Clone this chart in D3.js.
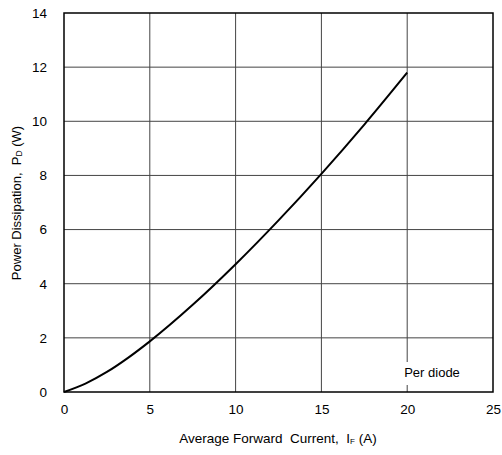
<!DOCTYPE html>
<html>
<head>
<meta charset="utf-8">
<script src="https://cdn.jsdelivr.net/npm/d3@7"></script>
<style>
  body { margin: 0; background: #fff; }
  text { font-family: "Liberation Sans", Arial, sans-serif; fill: #000; white-space: pre; }
</style>
</head>
<body>
<svg id="chart" width="502" height="455"></svg>
<script>
const current = [0, 1.25, 2.5, 3.75, 5, 7.5, 10, 12.5, 15, 17.5, 20];
const power   = [0, 0.31, 0.74, 1.27, 1.87, 3.22, 4.72, 6.34, 8.06, 9.88, 11.8];
const xTicks = [0, 5, 10, 15, 20, 25];
const yTicks = [0, 2, 4, 6, 8, 10, 12, 14];

const svg = d3.select("#chart");
const margin = { top: 13, right: 9, bottom: 63, left: 64 };
const width = 502 - margin.left - margin.right;
const height = 455 - margin.top - margin.bottom;

const x = d3.scaleLinear().domain([0, 25]).range([0, width]);
const y = d3.scaleLinear().domain([0, 14]).range([height, 0]);

const g = svg.append("g")
  .attr("transform", "translate(" + margin.left + "," + margin.top + ")");

// grid
g.append("g")
  .selectAll("line")
  .data(xTicks.slice(1, -1))
  .join("line")
  .attr("x1", d => x(d)).attr("x2", d => x(d))
  .attr("y1", 0).attr("y2", height)
  .attr("stroke", "#444").attr("stroke-width", 1);

g.append("g")
  .selectAll("line")
  .data(yTicks.slice(1, -1))
  .join("line")
  .attr("x1", 0).attr("x2", width)
  .attr("y1", d => y(d)).attr("y2", d => y(d))
  .attr("stroke", "#444").attr("stroke-width", 1);

// frame
g.append("rect")
  .attr("width", width).attr("height", height)
  .attr("fill", "none").attr("stroke", "#000").attr("stroke-width", 1.5);

// curve
const line = d3.line()
  .x((d, i) => x(current[i]))
  .y(d => y(d))
  .curve(d3.curveMonotoneX);

g.append("path")
  .datum(power)
  .attr("d", line)
  .attr("fill", "none")
  .attr("stroke", "#000")
  .attr("stroke-width", 2);

// "Per diode" note, white box over the gridline
const note = g.append("text")
  .attr("x", x(20) - 3)
  .attr("y", y(0) - 15)
  .attr("font-size", 13)
  .text("Per diode");
const bb = note.node().getBBox();
g.insert("rect", "text")
  .attr("x", bb.x - 1).attr("y", bb.y - 3)
  .attr("width", bb.width + 2).attr("height", bb.height + 8)
  .attr("fill", "#fff");

// axes (labels only)
const xAxis = g.append("g")
  .attr("transform", "translate(0," + height + ")")
  .call(d3.axisBottom(x).tickValues(xTicks).tickSize(0).tickPadding(12));
xAxis.select(".domain").remove();
xAxis.selectAll("text").attr("font-size", 13.5).attr("font-family", "Liberation Sans, Arial, sans-serif");

const yAxis = g.append("g")
  .call(d3.axisLeft(y).tickValues(yTicks).tickSize(0).tickPadding(17));
yAxis.select(".domain").remove();
yAxis.selectAll("text").attr("font-size", 13.5).attr("font-family", "Liberation Sans, Arial, sans-serif");

// axis titles
const xt = svg.append("text")
  .attr("x", 278)
  .attr("y", 443)
  .attr("text-anchor", "middle")
  .attr("font-size", 13.5);
xt.append("tspan").text("Average Forward  Current,  I");
xt.append("tspan").attr("font-size", 8).attr("dy", 1).text("F");
xt.append("tspan").attr("dy", -1).text(" (A)");

const yt = svg.append("text")
  .attr("transform", "translate(21,203) rotate(-90)")
  .attr("text-anchor", "middle")
  .attr("font-size", 13);
yt.append("tspan").text("Power Dissipation,  P");
yt.append("tspan").attr("font-size", 8.5).attr("dy", 1).text("D");
yt.append("tspan").attr("dy", -1).text(" (W)");
</script>
</body>
</html>
